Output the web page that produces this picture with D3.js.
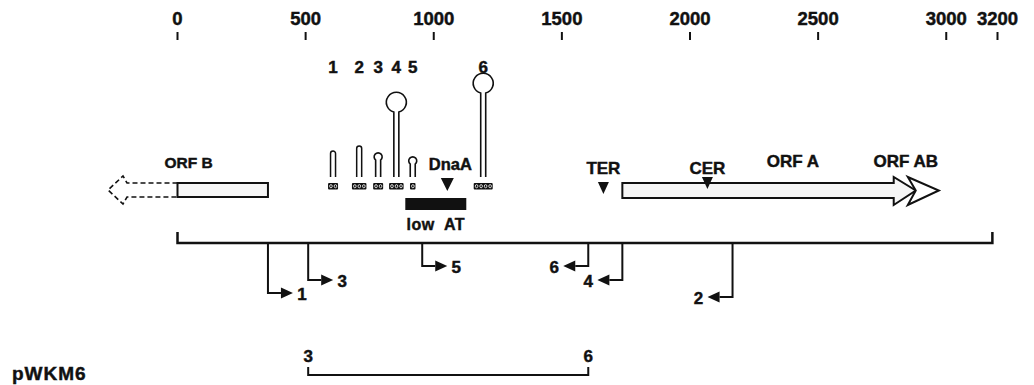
<!DOCTYPE html>
<html>
<head>
<meta charset="utf-8">
<script src="https://cdn.jsdelivr.net/npm/d3@7"></script>
<style>
  body { margin: 0; background: #fff; }
  svg { display: block; }
  text { font-family: "Liberation Sans", Arial, sans-serif; font-weight: bold; fill: #111; stroke: #111; stroke-width: 0.45px; }
</style>
</head>
<body>
<div id="chart"></div>
<script>
// map coordinates (bp)
const axisTicks = [0, 500, 1000, 1500, 2000, 2500, 3000, 3200];
const mapStart = 0;
const mapEnd = 3180;

// stem-loops above the map
const loopLabels = ['1', '2', '3', '4', '5', '6'];
const loopPos = [607, 709, 783, 854, 918, 1193];
const loopStem = [26, 31, 17, 65, 13, 84];   // stem height
const loopSize = [0, 0, 4, 10, 4, 10];        // 0 = plain hairpin
const loopRepeats = [2, 3, 2, 3, 1, 4];

// features
const dnaAPos = 1053;
const lowAT = [889, 1127];
const terPos = 1662;
const cerPos = 2068;
const orfB = [353, 0, -197, -271];           // box end, box start, dashed end, tip
const orfA = [1736, 2795, 2881];             // start, shaft end, tip
const orfAB = [2850, 2971];                  // head base, tip

// primers below the map
const primerLabels = ['1', '3', '5', '6', '4', '2'];
const primerPos = [353, 510, 955, 1603, 1736, 2166];
const primerDir = [1, 1, 1, -1, -1, -1];
const primerDrop = [50, 37, 23, 23, 37, 54];

// clone
const cloneName = 'pWKM6';
const cloneEnds = ['3', '6'];
const clonePos = [510, 1603];

const W = 1034, H = 385;
const svg = d3.select("#chart").append("svg")
    .attr("width", W)
    .attr("height", H);

svg.append("rect").attr("width", W).attr("height", H).attr("fill", "#fff");

const x = d3.scaleLinear().domain([0, 3200]).range([177.5, 997.5]);
const stemY = d3.scaleLinear().domain([0, 100]).range([177, 77]);

// top scale
const axis = svg.append("g");
axis.selectAll("line")
    .data(axisTicks)
    .enter()
    .append("line")
    .attr("x1", d => x(d)).attr("x2", d => x(d))
    .attr("y1", 32).attr("y2", 40)
    .attr("stroke", "#111").attr("stroke-width", 2);
axis.selectAll("text")
    .data(axisTicks)
    .enter()
    .append("text")
    .attr("x", d => x(d))
    .attr("y", 25)
    .attr("text-anchor", "middle")
    .style("font-size", "18.5px")
    .text(d => d);

// stem-loops
const loops = svg.append("g");
loopPos.forEach((p, i) => {
    const cx = x(p);
    const top = stemY(loopStem[i]);
    const r = loopSize[i];
    if (r === 0) {
        loops.append("path")
            .attr("d", `M${cx - 2.5},177 V${top + 2.5} A2.5,2.5 0 0 1 ${cx + 2.5},${top + 2.5} V177`)
            .attr("fill", "none").attr("stroke", "#111").attr("stroke-width", 1.5);
    } else {
        loops.append("path")
            .attr("d", `M${cx - 2.5},177 V${top} A${r},${r} 0 1 1 ${cx + 2.5},${top} V177`)
            .attr("fill", "none").attr("stroke", "#111").attr("stroke-width", 1.6);
    }
    loops.append("text")
        .attr("x", cx)
        .attr("y", 73)
        .attr("text-anchor", "middle")
        .style("font-size", "17px")
        .text(loopLabels[i]);

    const n = loopRepeats[i];
    const bw = 4.5 * n + 1;
    loops.append("rect")
        .attr("x", cx - bw / 2).attr("y", 183)
        .attr("width", bw).attr("height", 6.5)
        .attr("rx", 1)
        .attr("fill", "#111");
    for (let k = 0; k < n; k++) {
        loops.append("ellipse")
            .attr("cx", cx - bw / 2 + 2.9 + k * 4.5)
            .attr("cy", 186.2)
            .attr("rx", 1.3).attr("ry", 1.6)
            .attr("fill", "none").attr("stroke", "#fff").attr("stroke-width", 0.8);
    }
});

// DnaA box and low AT region
svg.append("text")
    .attr("x", x(dnaAPos) + 3).attr("y", 170)
    .attr("text-anchor", "middle")
    .style("font-size", "16.5px")
    .text("DnaA");
svg.append("path")
    .attr("d", `M${x(dnaAPos) - 6.5},178 H${x(dnaAPos) + 6.5} L${x(dnaAPos)},191 Z`)
    .attr("fill", "#111");
svg.append("rect")
    .attr("x", x(lowAT[0])).attr("y", 198)
    .attr("width", x(lowAT[1]) - x(lowAT[0])).attr("height", 12)
    .attr("fill", "#111");
svg.append("text")
    .attr("x", (x(lowAT[0]) + x(lowAT[1])) / 2).attr("y", 230)
    .attr("text-anchor", "middle")
    .style("font-size", "16px")
    .style("word-spacing", "5px")
    .style("letter-spacing", "0.5px")
    .text("low AT");

// ORF B (dashed part to the left)
const bEnd = x(orfB[0]), bStart = x(orfB[1]), bDash = x(orfB[2]), bTip = x(orfB[3]);
svg.append("rect")
    .attr("x", bStart).attr("y", 183)
    .attr("width", bEnd - bStart).attr("height", 14)
    .attr("fill", "#f6f6f6").attr("stroke", "#111").attr("stroke-width", 2);
svg.append("path")
    .attr("d", `M${bStart},183 H${bDash} L${bDash - 4},176 L${bTip},190 L${bDash - 4},204 L${bDash},197 H${bStart}`)
    .attr("fill", "none").attr("stroke", "#111").attr("stroke-width", 1.6)
    .attr("stroke-dasharray", "5,3");
svg.append("text")
    .attr("x", bStart + 11).attr("y", 168)
    .attr("text-anchor", "middle")
    .style("font-size", "15.5px")
    .text("ORF B");

// ORF A / ORF AB
const aStart = x(orfA[0]), aShaft = x(orfA[1]), aTip = x(orfA[2]);
svg.append("path")
    .attr("d", `M${aStart},183 H${aShaft} V177 L${aTip},190.5 L${aShaft},205 V198 H${aStart} Z`)
    .attr("fill", "#f6f6f6").attr("stroke", "#111").attr("stroke-width", 2)
    .attr("stroke-linejoin", "miter");
const abBase = x(orfAB[0]), abTip = x(orfAB[1]);
svg.append("path")
    .attr("d", `M${abBase},177 L${abTip},190.5 L${abBase},205 L${aTip},190.5 Z`)
    .attr("fill", "#fff").attr("stroke", "#111").attr("stroke-width", 2);
svg.append("text")
    .attr("x", 793).attr("y", 167)
    .attr("text-anchor", "middle")
    .style("font-size", "17px")
    .text("ORF A");
svg.append("text")
    .attr("x", abBase - 2).attr("y", 167)
    .attr("text-anchor", "middle")
    .style("font-size", "17px")
    .text("ORF AB");

// TER and CER
[[terPos, "TER", 182], [cerPos, "CER", 177]].forEach(([p, name, ty]) => {
    svg.append("text")
        .attr("x", x(p)).attr("y", 174)
        .attr("text-anchor", "middle")
        .style("font-size", "17px")
        .text(name);
    svg.append("path")
        .attr("d", `M${x(p) - 5.5},${ty} H${x(p) + 5.5} L${x(p)},${ty + 12} Z`)
        .attr("fill", "#111");
});

// map line
svg.append("path")
    .attr("d", `M${x(mapStart)},232 V243 H${x(mapEnd)} V232`)
    .attr("fill", "none").attr("stroke", "#111").attr("stroke-width", 2.5);

// primers
primerPos.forEach((p, i) => {
    const px = x(p);
    const py = 243 + primerDrop[i];
    const dir = primerDir[i];
    const tip = px + dir * 25;
    const base = tip - dir * 12;
    svg.append("path")
        .attr("d", `M${px},243 V${py} H${base}`)
        .attr("fill", "none").attr("stroke", "#111").attr("stroke-width", 2);
    svg.append("path")
        .attr("d", `M${base},${py - 5.5} L${tip},${py} L${base},${py + 5.5} Z`)
        .attr("fill", "#111");
    svg.append("text")
        .attr("x", tip + dir * 9)
        .attr("y", py + 7)
        .attr("text-anchor", "middle")
        .style("font-size", "17px")
        .text(primerLabels[i]);
});

// clone bracket
const c0 = x(clonePos[0]), c1 = x(clonePos[1]);
svg.append("path")
    .attr("d", `M${c0},367 V375 H${c1} V367`)
    .attr("fill", "none").attr("stroke", "#111").attr("stroke-width", 2);
svg.selectAll(".clone-end")
    .data(cloneEnds)
    .enter()
    .append("text")
    .attr("class", "clone-end")
    .attr("x", (d, i) => (i === 0 ? c0 : c1))
    .attr("y", 362)
    .attr("text-anchor", "middle")
    .style("font-size", "17px")
    .text(d => d);
svg.append("text")
    .attr("x", 12).attr("y", 380)
    .style("font-size", "19px")
    .style("letter-spacing", "1px")
    .text(cloneName);
</script>
</body>
</html>
